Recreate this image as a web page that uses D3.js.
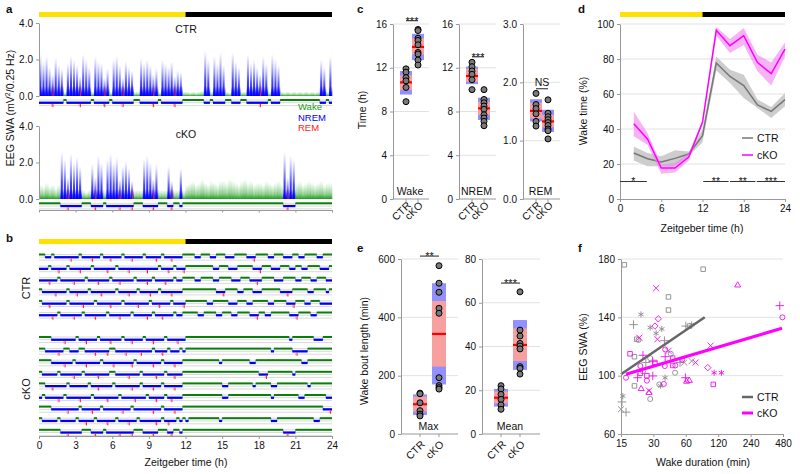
<!DOCTYPE html>
<html>
<head>
<meta charset="utf-8">
<script src="https://cdn.jsdelivr.net/npm/d3@7"></script>
<style>
  body { margin: 0; background: #fff; }
</style>
</head>
<body>
<svg id="fig" width="800" height="474"></svg>
<script>
// ---------- data ----------
// hypnograms: one char per 15-min epoch, groups of 3 h (w = wake, n = NREM, r = NREM with REM)
var hypA_CTR = "nnnnrnnnwnnn nrnnnwnnnrnw nnnrnnnwwnnn nrnwnnnnrnnw wwwwwwnnwnnn nwwnnnwwnnnn rnnwnnnwwwww wwwwwwwwnnwn";
var hypCTR = [
  "wwnnwnnnnnrn nwnnnrnnwnnr nnnwnnrnnnwn nnrnwnnrnnnw wwwnnwwwnnww wnnnwwwwnnrw wwwnnwwwnnnw wnnwwwwnnwww",
  "nnnwnnrnnwnn nrnnnwnnnnrn nwnnnrnnnnnr nnnwnnrnwnnr wwwwwwwwwnnw wwnnnwwwwwnn rwwwnnnwwwnn wwnnwwwwnnnw",
  "nnnrnnwnnnnr nnnwnnnrnnnw nnrnnnnwnnnr nwnnnrnnwnnw wwwnnwwwwnnw wwwnnnwwwnnr nwwwwnnnwwww nnwwwnnwwwnn",
  "wnnnnrnnnwnn rnnnwnnnrnnn nwnnnrnnwnnn rnnwnnnrnnnw wwwwwwwwwwnn rwwwwnnwwwnn nwwwwwwnnrnw wwwwnnwwwwnw",
  "wnnrnnnnnwnn nnrnnnwnnnnr nnnwnnnnrnnn wnnrnnnwnnnr wwwwwwwnnwww wwnnnwwwnnww wwwnnwwwwnnr wwwnnwwwnnnn",
  "nnnnrnwnnnnr nnwnnnrnnnwn nnrnnnwnnnnr nwnnrnnnwnnw wwwwnnwwwwnn wwwnnwwwwnnr wwnnwwwwwwnn rwwwwnnwwwww"
];
var hypCKO = [
  "wwwwnnnnrnnn wnnrnnnwnnnr nnnwnnrnnnwn nrnnnwnnnrnn wwwwwwwwwwww wwwwwwwwwwww wwwwwwwwwwnw wwwwwwnnnwww",
  "wwnnnnrnwwnn nwwnnnrnnnrw wnnnrnnnnrnn nwnnrnwnnnwn wwwwwwwwwwww wwwwwwwwwwww wwwwnwwwwwwn rnnnwwwwwwww",
  "wwwwnnnnrnnw nnnrnnnnwnnn rnnnnnrwnnnn nrnnwnnnrnnw wwwwwwwwwwwn wwwwwwwwwnnw wwwwwwwwwwww wwnnwwwwwwww",
  "wnnnnnwnnnnr nnwnnnnrnnnw wnnnnrnnnwnn nnrnnwnnrnnw wwwwwwwwwwww wwwwwwwwwwww nnrwwwwwwwwn wwwwwwwwwwww",
  "wwnnrnnnnwnn nnnnwnnrnnnn wnnnnnrnnwnn nrnnwnnnrnnw wwwwwwwwwwww nnwwwwwwwwnw wwwwnnwwwwww wwwwnwwwwwww",
  "nwnnnnrnwnnn nrnnnwnnnnrn nnwnnnnrnnnw nnrnnwnrnnnw wwwwwwwwwwww nnwwwwwwwwww wwwwnwwwwwww wnnwwwwwwwnn",
  "wwwwnnnnnrnn nwnnnrnnwnnn nnnrnnwnnnnn nrnnwnnnrnnw wwwwwwwwwwww wwwwwwwwwwww wwwwwwwwwwww wwwwwwwwwnnr",
  "wnnnnnwnnnnn wnnrnnwnnnrn nwnnnrnnwnnn nnrnwnrnnwnw nwwwwwwwwwwn wwwwwwwwwwww wwwwnnwwwwww wwwwwwnnwwww",
  "wwwwwwwnnrnn nnwwwnrnnwnn nnrnnnrwwwnn nrnwwwnrwwnw wwwwwwwwwwww wwwwwwwwwwww wwwwwwwwnrnn wwwwwwwwwwww"
];
// EEG SWA (mV²/0.25 Hz) per 15-min epoch, panel a
var swaCTR = [2.3,1.9,2.2,1.6,1.2,2.1,1.7,1.5,0.25,1.8,2.2,2.0,
  1.7,1.1,2.3,2.0,1.6,0.25,2.2,1.9,1.8,1.0,1.5,0.25,
  2.0,2.2,1.7,1.0,1.9,1.6,1.4,0.25,0.25,2.1,1.8,2.0,
  1.7,1.2,1.5,0.25,2.0,1.8,1.6,1.9,1.1,1.4,1.3,0.25,
  0.25,0.2,0.25,0.2,0.25,0.3,2.5,2.0,0.25,2.2,1.8,2.4,
  1.7,0.25,0.2,2.4,1.9,1.6,0.25,0.25,2.3,1.8,2.0,1.6,
  1.2,2.2,1.8,0.25,2.3,2.0,1.7,0.25,0.2,0.25,0.2,0.25,
  0.2,0.25,0.2,0.25,0.2,0.25,0.2,0.25,2.0,1.6,0.25,2.2];
var swaCKO = [0.8,0.7,0.9,0.7,0.8,0.6,0.8,2.6,2.2,1.2,2.5,2.0,
  2.3,1.8,0.5,0.4,0.5,1.9,1.2,2.4,2.0,0.5,2.2,2.5,
  2.0,2.3,1.1,1.8,2.1,1.7,1.0,0.5,0.5,0.5,2.2,2.4,
  2.0,1.1,1.9,0.5,0.5,0.5,1.8,1.0,0.5,0.5,1.7,0.5,
  0.8,0.9,1.0,0.8,0.9,1.1,0.9,0.8,1.0,0.9,0.8,1.0,
  1.0,0.9,1.1,1.0,0.9,0.8,1.0,1.1,0.9,1.0,0.8,0.9,
  0.9,0.8,1.0,0.9,0.8,0.9,1.0,0.8,2.6,1.2,2.4,2.2,
  0.9,1.0,0.8,0.9,1.0,0.9,0.8,0.9,1.0,0.8,0.9,0.9];

var groups = ["CTR", "cKO"];

// panel c: points per group, boxes [outerLo, outerHi, innerLo, innerHi, mean]
var wakePts = [[11.9,11.6,11.1,10.8,10.2,8.9], [15.5,15.4,14.7,14.5,14.1,13.4,13.25,12.7,12.25]];
var wakeBox = [[9.55,11.7,9.96,11.3,10.66], [12.7,15.1,13.2,14.7,13.9]];
var nremPts = [[12.5,12.1,11.7,11.4,10.9,10.0], [10.0,9.1,8.8,8.5,8.2,7.7,7.4,7.1,6.7]];
var nremBox = [[10.5,12.1,10.7,11.9,11.24], [7.22,9.26,7.68,8.9,8.29]];
var remPts = [[1.81,1.62,1.55,1.46,1.33,1.25], [1.7,1.47,1.41,1.36,1.31,1.26,1.2,1.17,1.03]];
var remBox = [[1.33,1.71,1.38,1.65,1.51], [1.15,1.53,1.23,1.44,1.33]];

// panel e
var maxPts = [[140,138,107,80,68,62], [577,517,486,431,414,193,166,159,154]];
var maxBox = [[65,136,77,128,102], [170,517,231,456,343]];
var meanPts = [[22.1,20.6,18.1,15.8,13.3,11.3], [65,47.5,44.8,41.4,40.2,38.9,30.8,30,27.4]];
var meanBox = [[12.5,20.6,14,19.4,16.6], [29.3,52.1,33.4,48.3,40.7]];

// panel d: wake time (%) per 2-h bin
var dHours = [2,4,6,8,10,12,14,16,18,20,22,24];
var dCTR   = [26.3,23,21.1,23.2,25.7,36.2,77.7,70,64.8,53.7,50.1,56.8];
var dCTRhi = [30,26.3,24.4,27.8,27.2,39.6,81.5,73.9,71,56.8,52.6,60.6];
var dCTRlo = [22,18.7,18.7,19.2,24.4,32.4,73.5,66.3,57.7,52,46.3,53];
var dCKO   = [43,34.3,17.7,17.7,24,43.8,96.4,87.6,93.3,78,71.6,85.7];
var dCKOhi = [50,37.7,19.6,20.6,26,45,98.3,91.4,97.7,82.5,78,89.5];
var dCKOlo = [35.8,31,14.5,15.2,22,42.5,93.3,83.4,88,73,64.8,81.5];
var dSig = [[0,3.9,"*"], [12.1,15.8,"**"], [16,19.7,"**"], [19.9,24,"***"]];

// panel f: [wake duration (min), EEG SWA (%), symbol]
var fCTR = [[16.1,176,"s"],[87,173,"s"],[41.4,154,"s"],[41.4,145,"s"],[65,134,"s"],[68,135,"a"],
  [23,142,"a"],[19.6,135,"p"],[28,133,"a"],[35.9,132,"a"],[31.8,129,"a"],[21.8,124.5,"o"],[21,125,"s"],
  [38,124,"p"],[43.5,115,"o"],[20,113,"s"],[28,112,"o"],[25.5,109,"p"],[53,109,"p"],[68,110,"x"],
  [47.7,102,"o"],[38.5,98.6,"a"],[20,93,"s"],[34,94,"o"],[35,93,"a"],[15.6,86,"a"],[15.3,82,"p"],
  [15,77,"x"],[16.7,75,"p"],[28,84,"o"],[60,134,"p"],[24,103,"o"],[58,109,"x"]];
var fCKO = [[182,162,"t"],[448,148,"p"],[474,140,"o"],[31.8,160,"x"],[33.3,139,"d"],[31,134,"d"],
  [22.2,126,"x"],[32.7,125,"x"],[18.2,115,"s"],[24,114,"p"],[38.6,118,"o"],[41.4,117,"x"],[38.6,113,"p"],
  [102,120.6,"x"],[45.3,112,"s"],[45.3,107,"s"],[55.5,111,"o"],[38.3,106.6,"o"],[29.6,109.6,"p"],
  [22.7,106.6,"o"],[31,109,"s"],[96,105.5,"d"],[59.5,98.6,"p"],[16.7,98.6,"o"],[22.7,101.6,"s"],
  [26.1,100,"s"],[21.4,98.6,"p"],[29.6,99.8,"p"],[26.1,96.6,"o"],[110,102,"a"],[128.6,102,"a"],
  [108,94,"s"],[64.7,96.6,"t"],[23.1,91,"t"],[27.3,88.3,"t"],[27.3,89.7,"x"],[37.5,94.3,"o"],
  [74,109,"x"],[61,96,"t"],[48,107,"o"]];
var fRegCTR = [[15,101],[90,140]];
var fRegCKO = [[16.7,101],[470,132.5]];

// ---------- drawing ----------
var FONT = "'Liberation Sans', Arial, Helvetica, sans-serif";
var GREEN = "#0b7d0b", BLUE = "#0000f0", RED = "#ff1a1a", MAG = "#ff00ff", GREY = "#777";
var EP = 0.25; // hours per epoch

var svg = d3.select("#fig").attr("font-family", FONT);
var defs = svg.append("defs");

function grad(id, stops) {
  var lg = defs.append("linearGradient").attr("id", id)
    .attr("x1", 0).attr("y1", 1).attr("x2", 0).attr("y2", 0);
  stops.forEach(s => lg.append("stop").attr("offset", s[0]).attr("stop-color", s[1]).attr("stop-opacity", s[2]));
}
grad("gBlue", [[0, "#0000ff", 1], [0.35, "#1a1aff", 0.8], [1, "#6060ff", 0]]);
grad("gGreen", [[0, "#1f9a1f", 1], [0.3, "#3aa83a", 0.55], [1, "#6c6", 0]]);
grad("gRed", [[0, "#ff2020", 0.9], [1, "#ff6060", 0]]);

function txt(x, y, s, size, anchor) {
  return svg.append("text").attr("x", x).attr("y", y).text(s)
    .attr("font-size", size || 10).attr("text-anchor", anchor || "start").attr("fill", "#111");
}
function vtxt(x, y, s, size) {
  return svg.append("text").attr("transform", "translate(" + x + "," + y + ") rotate(-90)")
    .attr("text-anchor", "middle").attr("font-size", size || 10.5).attr("fill", "#111").text(s);
}
function styleAxis(g) {
  g.attr("font-family", FONT);
  g.select(".domain").attr("stroke", "#999");
  g.selectAll(".tick line").attr("stroke", "#999");
  g.selectAll(".tick text").attr("font-size", 10).attr("fill", "#111");
}
function lightBar(x, y) {
  svg.append("rect").attr("x", x(0)).attr("y", y).attr("width", x(12) - x(0)).attr("height", 5).attr("fill", "#ffe100");
  svg.append("rect").attr("x", x(12)).attr("y", y).attr("width", x(24) - x(12)).attr("height", 5).attr("fill", "#000");
}
function letter(x, y, s) {
  txt(x, y, s, 11.5).attr("font-weight", "bold");
}

// hypnogram strip
function drawHyp(code, y0, x) {
  var s = code.replace(/\s/g, "").split("");
  var g = svg.append("g");
  [1, 3.7, 6.6].forEach(dy => g.append("line")
    .attr("x1", x(0)).attr("x2", x(24)).attr("y1", y0 + dy).attr("y2", y0 + dy)
    .attr("stroke", "#d9d9d9").attr("stroke-width", 1));
  var runs = [];
  s.forEach((c, i) => {
    var st = c == "w" ? "w" : "n";
    if (runs.length && runs[runs.length - 1].st == st) runs[runs.length - 1].end = i + 1;
    else runs.push({st: st, start: i, end: i + 1});
  });
  g.selectAll("line.tr").data(runs.slice(1)).join("line")
    .attr("x1", d => x(d.start * EP)).attr("x2", d => x(d.start * EP))
    .attr("y1", y0 + 1).attr("y2", y0 + 3.8)
    .attr("stroke", d => d.st == "w" ? "#8fcf8f" : "#9a9aff").attr("stroke-width", 0.9);
  g.selectAll("rect.run").data(runs).join("rect")
    .attr("x", d => x(d.start * EP)).attr("width", d => x(d.end * EP) - x(d.start * EP))
    .attr("y", d => d.st == "w" ? y0 : y0 + 2.6).attr("height", d => d.st == "w" ? 2 : 2.3)
    .attr("fill", d => d.st == "w" ? GREEN : BLUE);
  var rem = s.map((c, i) => c == "r" ? i : -1).filter(i => i >= 0);
  g.selectAll("line.rem").data(rem).join("line")
    .attr("x1", i => x((i + 0.55) * EP)).attr("x2", i => x((i + 0.55) * EP))
    .attr("y1", y0 + 5).attr("y2", y0 + 8.2).attr("stroke", RED).attr("stroke-width", 1);
  g.selectAll("line.rem2").data(rem).join("line")
    .attr("x1", i => x((i + 0.15) * EP)).attr("x2", i => x((i + 0.15) * EP))
    .attr("y1", y0 + 5).attr("y2", y0 + 7.5).attr("stroke", "#ff9a9a").attr("stroke-width", 1);
}

// SWA trace: thin gradient spikes over a low solid base
function drawTrace(code, swa, x, y) {
  var s = code.replace(/\s/g, "").split("");
  var g = svg.append("g");
  var base = s.map((c, i) => ({c: c, i: i, v: c == "w" ? swa[i] : Math.min(swa[i], 0.55)}));
  g.selectAll("rect.base").data(base).join("rect")
    .attr("x", d => x(d.i * EP)).attr("width", d => x((d.i + 1) * EP) - x(d.i * EP) + 0.3)
    .attr("y", d => y(d.v)).attr("height", d => y(0) - y(d.v))
    .attr("fill", d => d.c == "w" ? "url(#gGreen)" : "url(#gBlue)");
  var spikes = base.filter(d => d.c != "w");
  g.selectAll("rect.spike").data(spikes).join("rect")
    .attr("x", d => x(d.i * EP) + 0.4).attr("width", d => (x((d.i + 1) * EP) - x(d.i * EP)) * 0.68)
    .attr("y", d => y(swa[d.i])).attr("height", d => y(0) - y(swa[d.i]))
    .attr("fill", "url(#gBlue)");
  var rem = s.map((c, i) => c == "r" ? i : -1).filter(i => i >= 0);
  g.selectAll("rect.rem").data(rem).join("rect")
    .attr("x", i => x((i + 0.4) * EP)).attr("width", 1.2)
    .attr("y", y(0.7)).attr("height", y(0) - y(0.7)).attr("fill", "url(#gRed)");
}

// ===== panel a =====
var xA = d3.scaleLinear([0, 24], [39, 332]);
var yA1 = d3.scaleLinear([0, 4], [96, 23]);
var yA2 = d3.scaleLinear([0, 4], [199, 126]);
letter(6, 13, "a");
lightBar(xA, 12);
drawTrace(hypA_CTR, swaCTR, xA, yA1);
drawTrace(hypCKO[8], swaCKO, xA, yA2);
[yA1, yA2].forEach(y => svg.append("g").attr("transform", "translate(39,0)")
  .call(d3.axisLeft(y).tickValues([0, 2, 4]).tickSize(3).tickSizeOuter(0)).call(styleAxis));
drawHyp(hypA_CTR, 99, xA);
drawHyp(hypCKO[8], 202.3, xA);
svg.append("g").attr("transform", "translate(0,210)")
  .call(d3.axisBottom(xA).tickValues(d3.range(0, 25, 3)).tickSize(2.5).tickSizeOuter(0).tickFormat(""))
  .call(styleAxis);
txt(186, 33, "CTR", 10.5, "middle");
txt(186, 138, "cKO", 10.5, "middle");
txt(298, 110, "Wake", 9.5).attr("fill", "#1a9a1a");
txt(298, 120.5, "NREM", 9.5).attr("fill", BLUE);
txt(298, 131, "REM", 9.5).attr("fill", RED);
vtxt(14, 108, "").call(t => {
  t.append("tspan").text("EEG SWA (mV");
  t.append("tspan").text("2").attr("font-size", 7).attr("dy", -4);
  t.append("tspan").text("/0.25 Hz)").attr("dy", 4);
});

// ===== panel b =====
letter(6, 242, "b");
lightBar(xA, 239);
hypCTR.forEach((h, k) => drawHyp(h, 253.5 + k * 11.6, xA));
hypCKO.forEach((h, k) => drawHyp(h, 336 + k * 11.6, xA));
svg.append("g").attr("transform", "translate(0,436)")
  .call(d3.axisBottom(xA).tickValues(d3.range(0, 25, 3)).tickSize(3).tickSizeOuter(0))
  .call(styleAxis);
txt(186, 466, "Zeitgeber time (h)", 10.5, "middle");
vtxt(30, 288, "CTR", 11);
vtxt(30, 389, "cKO", 11);

// ===== box panels (c, e) =====
function boxSub(o) {
  var y = o.y, g = svg.append("g");
  var xs = o.offs.map(d => o.axisX + d);
  o.ticks.filter(t => t > 0).forEach(t => g.append("line")
    .attr("x1", o.axisX).attr("x2", o.gridEnd).attr("y1", y(t)).attr("y2", y(t))
    .attr("stroke", "#e2e2e2"));
  g.append("line").attr("x1", o.axisX).attr("x2", o.gridEnd).attr("y1", y(0)).attr("y2", y(0)).attr("stroke", "#999");
  xs.forEach(x => g.append("line").attr("x1", x).attr("x2", x).attr("y1", y(0)).attr("y2", y(0) + 3).attr("stroke", "#999"));
  svg.append("g").attr("transform", "translate(" + o.axisX + ",0)")
    .call(d3.axisLeft(y).tickValues(o.ticks).tickSize(3).tickSizeOuter(0)).call(styleAxis);
  o.boxes.forEach((b, i) => {
    var x = xs[i], w = o.bw;
    g.append("rect").attr("x", x - w / 2).attr("width", w).attr("y", y(b[1])).attr("height", y(b[0]) - y(b[1]))
      .attr("fill", "#9090ff");
    g.append("rect").attr("x", x - w / 2).attr("width", w).attr("y", y(b[3])).attr("height", y(b[2]) - y(b[3]))
      .attr("fill", "#f8a0a0");
    g.append("line").attr("x1", x - w / 2).attr("x2", x + w / 2).attr("y1", y(b[4])).attr("y2", y(b[4]))
      .attr("stroke", "#ff0000").attr("stroke-width", 2.2);
  });
  o.pts.forEach((p, i) => g.selectAll(null).data(p).join("circle")
    .attr("cx", xs[i]).attr("cy", d => y(d)).attr("r", 3)
    .attr("fill", "#7a7a7a").attr("stroke", "#000").attr("stroke-width", 1));
  txt((o.axisX + o.gridEnd) / 2 - 1, y(0) - 4, o.name, 10.5, "middle");
  groups.forEach((gname, i) => svg.append("text")
    .attr("transform", "translate(" + (xs[i] + 5.5) + "," + (y(0) + o.labDy) + ") rotate(-45)")
    .attr("text-anchor", "end").attr("font-size", 10.5).attr("fill", "#111").text(gname));
  var sy = y(o.sig[1]);
  g.append("line").attr("x1", xs[0]).attr("x2", xs[1]).attr("y1", sy).attr("y2", sy).attr("stroke", "#222");
  var isNS = o.sig[0] == "NS";
  txt((xs[0] + xs[1]) / 2, isNS ? sy - 2.5 : sy + 4, o.sig[0], isNS ? 10.5 : 11, "middle");
}

letter(357, 13, "c");
var yC = d3.scaleLinear([0, 16], [199, 24]);
var yCrem = d3.scaleLinear([0, 3], [199, 24]);
var cOpt = {offs: [13, 25], bw: 12, labDy: 7};
boxSub(Object.assign({axisX: 393, gridEnd: 429, y: yC, ticks: [0, 4, 8, 12, 16], pts: wakePts, boxes: wakeBox, name: "Wake", sig: ["***", 16.3]}, cOpt));
boxSub(Object.assign({axisX: 459, gridEnd: 496, y: yC, ticks: [0, 4, 8, 12, 16], pts: nremPts, boxes: nremBox, name: "NREM", sig: ["***", 13]}, cOpt));
boxSub(Object.assign({axisX: 523, gridEnd: 560, y: yCrem, ticks: [0, 1, 2, 3], pts: remPts, boxes: remBox, name: "REM", sig: ["NS", 1.89]}, cOpt));
vtxt(366, 110, "Time (h)");

letter(357, 252, "e");
var eOpt = {offs: [19, 38], bw: 14, labDy: 11};
boxSub(Object.assign({axisX: 401, gridEnd: 458, y: d3.scaleLinear([0, 600], [434, 259]), ticks: [0, 200, 400, 600], pts: maxPts, boxes: maxBox, name: "Max", sig: ["**", 610]}, eOpt));
boxSub(Object.assign({axisX: 482, gridEnd: 540, y: d3.scaleLinear([0, 80], [434, 259]), ticks: [0, 20, 40, 60, 80], pts: meanPts, boxes: meanBox, name: "Mean", sig: ["***", 69]}, eOpt));
vtxt(368, 351, "Wake bout length (min)");

// ===== panel d =====
letter(578, 13, "d");
var xD = d3.scaleLinear([0, 24], [620, 785]);
var yD = d3.scaleLinear([0, 100], [199, 24]);
lightBar(xD, 12);
[20, 40, 60, 80, 100].forEach(t => svg.append("line").attr("x1", 620).attr("x2", 785)
  .attr("y1", yD(t)).attr("y2", yD(t)).attr("stroke", "#e2e2e2"));
function bandLine(mid, lo, hi, fill, stroke) {
  var data = dHours.map((h, i) => ({h: h, m: mid[i], lo: lo[i], hi: hi[i]}));
  svg.append("path").datum(data).attr("fill", fill)
    .attr("d", d3.area().x(d => xD(d.h)).y0(d => yD(d.lo)).y1(d => yD(d.hi)));
  svg.append("path").datum(data).attr("fill", "none").attr("stroke", stroke).attr("stroke-width", 1.5)
    .attr("d", d3.line().x(d => xD(d.h)).y(d => yD(d.m)));
}
bandLine(dCTR, dCTRlo, dCTRhi, "#cdcdcd", GREY);
bandLine(dCKO, dCKOlo, dCKOhi, "rgba(240,130,240,0.6)", MAG);
svg.append("g").attr("transform", "translate(620,0)")
  .call(d3.axisLeft(yD).tickValues([0, 20, 40, 60, 80, 100]).tickSize(3).tickSizeOuter(0)).call(styleAxis);
svg.append("g").attr("transform", "translate(0,199)")
  .call(d3.axisBottom(xD).tickValues([0, 6, 12, 18, 24]).tickSize(3).tickSizeOuter(0)).call(styleAxis);
dSig.forEach(s => {
  svg.append("line").attr("x1", xD(s[0])).attr("x2", xD(s[1])).attr("y1", yD(10)).attr("y2", yD(10)).attr("stroke", "#333");
  txt((xD(s[0]) + xD(s[1])) / 2, yD(10) + 3.5, s[2], 10.5, "middle");
});
txt(702, 232, "Zeitgeber time (h)", 10.5, "middle");
vtxt(587, 111, "Wake time (%)");
[["CTR", GREY, 138, 1.5], ["cKO", MAG, 155, 1.5]].forEach(l => {
  svg.append("line").attr("x1", 742).attr("x2", 753).attr("y1", l[2]).attr("y2", l[2]).attr("stroke", l[1]).attr("stroke-width", l[3]);
  txt(757, l[2] + 4, l[0], 10.5);
});

// ===== panel f =====
letter(578, 252, "f");
var xF = d3.scaleLog().base(2).domain([15, 480]).range([621, 783]);
var yF = d3.scaleLinear([60, 180], [434, 259]);
[100, 140, 180].forEach(t => svg.append("line").attr("x1", 621).attr("x2", 783)
  .attr("y1", yF(t)).attr("y2", yF(t)).attr("stroke", "#e2e2e2"));
var symMap = {
  o: d3.symbolCircle,
  s: d3.symbolSquare2 || d3.symbolSquare,
  d: d3.symbolDiamond2 || d3.symbolDiamond,
  t: d3.symbolTriangle2 || d3.symbolTriangle,
  p: d3.symbolPlus || d3.symbolCross,
  x: d3.symbolTimes || d3.symbolCross,
  a: d3.symbolAsterisk || d3.symbolStar
};
function scatter(data, color) {
  svg.append("g").selectAll("path").data(data).join("path")
    .attr("transform", d => "translate(" + xF(d[0]) + "," + yF(d[1]) + ")")
    .attr("d", d => d3.symbol().type(symMap[d[2]]).size(d[2] == "o" ? 20 : 26)())
    .attr("fill", "none").attr("stroke", color).attr("stroke-width", 0.9);
}
scatter(fCTR, "#8a8a8a");
scatter(fCKO, "#ee10ee");
var regLine = d3.line().x(d => xF(d[0])).y(d => yF(d[1]));
svg.append("path").datum(fRegCTR).attr("d", regLine).attr("stroke", "#666").attr("stroke-width", 2.5).attr("fill", "none");
svg.append("path").datum(fRegCKO).attr("d", regLine).attr("stroke", MAG).attr("stroke-width", 3).attr("fill", "none");
svg.append("g").attr("transform", "translate(621,0)")
  .call(d3.axisLeft(yF).tickValues([60, 100, 140, 180]).tickSize(3).tickSizeOuter(0)).call(styleAxis);
svg.append("g").attr("transform", "translate(0,434)")
  .call(d3.axisBottom(xF).tickValues([15, 30, 60, 120, 240, 480]).tickFormat(d3.format("d")).tickSize(3).tickSizeOuter(0))
  .call(styleAxis);
txt(703, 466, "Wake duration (min)", 10.5, "middle");
vtxt(587, 347, "EEG SWA (%)");
[["CTR", "#666", 397, 2.5], ["cKO", MAG, 413, 3]].forEach(l => {
  svg.append("line").attr("x1", 742).attr("x2", 753).attr("y1", l[2]).attr("y2", l[2]).attr("stroke", l[1]).attr("stroke-width", l[3]);
  txt(757, l[2] + 4, l[0], 10.5);
});
</script>
</body>
</html>
